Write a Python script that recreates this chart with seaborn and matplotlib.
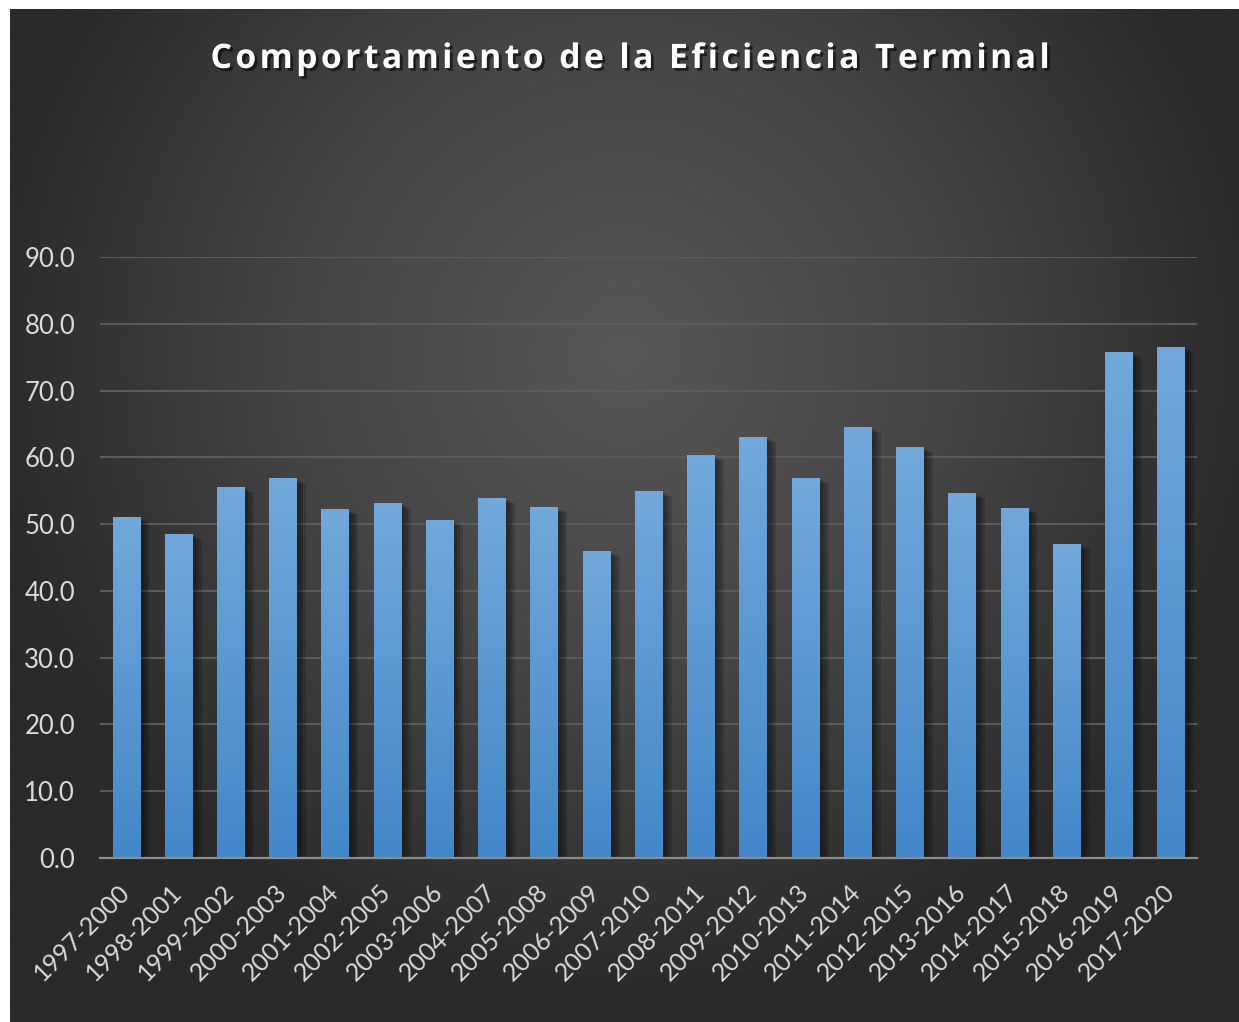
import numpy as np
import pandas as pd
import matplotlib
matplotlib.use("Agg")
import matplotlib.pyplot as plt
import matplotlib.patheffects as pe
from matplotlib.colors import LinearSegmentedColormap
import seaborn as sns

periodos = ["1997-2000", "1998-2001", "1999-2002", "2000-2003", "2001-2004",
            "2002-2005", "2003-2006", "2004-2007", "2005-2008", "2006-2009",
            "2007-2010", "2008-2011", "2009-2012", "2010-2013", "2011-2014",
            "2012-2015", "2013-2016", "2014-2017", "2015-2018", "2016-2019",
            "2017-2020"]
eficiencia = [51.0, 48.5, 55.5, 56.9, 52.2, 53.1, 50.6, 53.9, 52.5, 45.9,
              54.9, 60.3, 63.0, 56.9, 64.5, 61.5, 54.6, 52.4, 47.0, 75.7, 76.5]
y_ticks = [0, 10, 20, 30, 40, 50, 60, 70, 80, 90]
titulo = "Comportamiento de la Eficiencia Terminal"

df = pd.DataFrame({"Periodo": periodos, "Eficiencia": eficiencia})

sns.set_theme(style="dark")
plt.rcParams["font.family"] = ["Lato", "DejaVu Sans"]

W, H = 1239, 1022
fig = plt.figure(figsize=(W / 100, H / 100), dpi=100)
fig.patch.set_facecolor("white")

# fondo oscuro con degradado radial
bg = fig.add_axes([10 / W, 0, (W - 10) / W, (H - 9) / H])
yy, xx = np.mgrid[0:1:400j, 0:1:500j]
r = np.sqrt(((xx - 0.5) / 0.7) ** 2 + ((yy - 0.34) / 0.85) ** 2)
cmap_bg = LinearSegmentedColormap.from_list("bg", ["#575757", "#454545", "#2a2a2a"])
bg.imshow(r, cmap=cmap_bg, vmin=0, vmax=0.75, aspect="auto", extent=[0, 1, 0, 1])
bg.axis("off")

ax = fig.add_axes([100 / W, (H - 858) / H, 1097 / W, 601 / H])
ax.set_facecolor("none")

sns.barplot(data=df, x="Periodo", y="Eficiencia", color="#5b9bd5",
            saturation=1, width=0.52, ax=ax, zorder=3,
            linewidth=0, edgecolor="none")

# sombra suave + degradado dentro de cada barra
sombra = [pe.SimplePatchShadow(offset=(o, -o * 0.5), alpha=0.16,
                               shadow_rgbFace="black") for o in (7, 5, 3)]
grad = LinearSegmentedColormap.from_list("bar", ["#4387c8", "#72a8dc"])
g = np.linspace(0, 1, 256).reshape(-1, 1)
for p in ax.patches:
    p.set_path_effects(sombra + [pe.Normal()])
    x0, w, h = p.get_x(), p.get_width(), p.get_height()
    im = ax.imshow(g, cmap=grad, origin="lower", aspect="auto",
                   extent=[x0, x0 + w, 0, h], zorder=4)
    im.set_clip_path(p)

ax.set_xlim(-0.5, len(periodos) - 0.5)
ax.set_ylim(0, 90)
ax.set_yticks(y_ticks)
ax.set_yticklabels([f"{v:.1f}" for v in y_ticks])
ax.grid(axis="y", color="#5c5c5c", linewidth=1.4, zorder=0)
ax.grid(axis="x", visible=False)
for s in ["top", "right", "left"]:
    ax.spines[s].set_visible(False)
ax.spines["bottom"].set_color("#8c8c8c")
ax.spines["bottom"].set_linewidth(1.6)
ax.spines["bottom"].set_zorder(5)

ax.tick_params(axis="y", length=0, pad=18, labelsize=18.5, labelcolor="#d9d9d9")
ax.tick_params(axis="x", length=0, pad=22, labelsize=18, labelcolor="#d9d9d9")
plt.setp(ax.get_xticklabels(), rotation=45, ha="right", va="center",
         rotation_mode="anchor")
ax.set_xlabel("")
ax.set_ylabel("")

# espaciado entre letras como en el original
titulo_esp = "\u200a".join(titulo)
fig.text(0.508, 1 - 59 / H, titulo_esp,
         ha="center", va="center", color="white", fontsize=24.3,
         fontweight="bold", family=["Open Sans", "DejaVu Sans"],
         path_effects=[pe.SimplePatchShadow(offset=(2, -2), alpha=0.55,
                                            shadow_rgbFace="black"), pe.Normal()])

fig.savefig("out.png", dpi=100, facecolor=fig.get_facecolor())
